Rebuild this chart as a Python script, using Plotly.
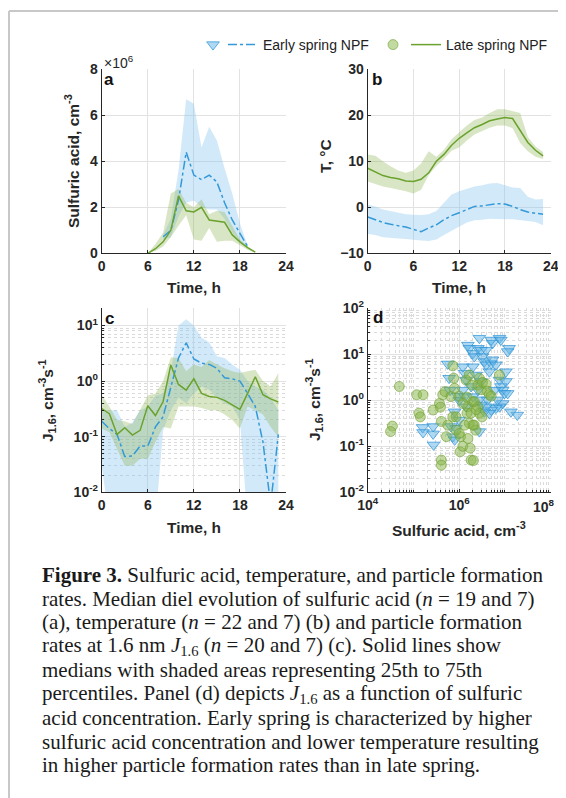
import plotly.graph_objects as go

# ---------------- data ----------------
# Panel a: sulfuric acid (x1e6 cm^-3) vs hour
hours_a_early = [8, 9, 10, 11, 12, 13, 14, 15, 16, 17, 18, 19]
early_a_med = [0.72, 1.0, 2.3, 4.4, 3.4, 3.2, 3.4, 3.1, 2.2, 1.45, 0.87, 0.3]
early_a_q75 = [0.8, 1.5, 3.6, 6.7, 6.5, 4.6, 5.5, 4.9, 3.7, 2.6, 1.3, 0.35]
early_a_q25 = [0.6, 0.7, 1.6, 2.2, 2.3, 2.0, 1.9, 1.9, 1.5, 0.9, 0.5, 0.25]

hours_a_late = [6, 7, 8, 9, 10, 11, 12, 13, 14, 15, 16, 17, 18, 19, 20]
late_a_med = [0.0, 0.2, 0.5, 1.0, 2.5, 1.85, 1.8, 2.0, 1.45, 1.4, 1.35, 0.8, 0.5, 0.25, 0.05]
late_a_q75 = [0.0, 0.4, 0.9, 2.6, 2.8, 2.2, 2.0, 2.35, 1.7, 1.85, 1.8, 1.2, 0.6, 0.3, 0.06]
late_a_q25 = [0.0, 0.1, 0.3, 0.7, 1.2, 1.65, 0.6, 0.55, 1.1, 0.5, 0.55, 0.55, 0.35, 0.15, 0.02]

# Panel b: temperature (deg C) vs hour
hours_b = list(range(24))
late_b_med = [8.5, 7.7, 6.9, 6.5, 6.2, 5.7, 5.6, 6.1, 7.5, 10.0, 11.5, 13.5, 15.0, 16.2, 17.3, 18.0,
              18.8, 19.2, 19.5, 19.3, 16.7, 14.1, 12.4, 11.2]
late_b_q75 = [11.5, 11.2, 10.0, 8.9, 8.0, 7.5, 8.0, 9.5, 12.2, 11.0, 12.5, 14.8, 16.3, 17.8, 19.0, 19.5,
              20.5, 21.3, 21.3, 20.9, 20.5, 15.3, 13.2, 12.0]
late_b_q25 = [5.6, 5.0, 4.5, 4.2, 3.9, 3.5, 3.0, 3.8, 7.0, 9.0, 10.5, 12.3, 13.0, 14.5, 15.8, 16.5,
              17.3, 17.8, 17.8, 17.2, 14.0, 12.2, 11.0, 10.5]
early_b_med = [-2.1, -2.7, -3.3, -3.7, -4.0, -4.3, -4.8, -5.3, -4.5, -3.8, -2.7, -1.8, -1.2, -0.5, 0.2, 0.3,
               0.6, 0.8, 0.7, 0.2, -0.5, -1.0, -1.3, -1.5]
early_b_q75 = [0.6, 0.2, -0.5, -0.8, -1.1, -1.5, -1.6, -1.7, -1.5, -0.8, 1.0, 2.8, 3.5, 4.0, 4.5, 4.8,
               5.2, 5.3, 4.8, 4.3, 4.2, 2.3, 1.7, 1.8]
early_b_q25 = [-5.8, -6.0, -6.5, -6.6, -6.8, -6.9, -7.0, -7.2, -7.3, -7.0, -6.0, -5.0, -4.2, -3.3, -2.8, -2.7,
               -2.5, -2.5, -2.6, -2.6, -2.8, -3.0, -3.2, -3.9]

# Panel c: J1.6 (cm^-3 s^-1) vs hour
hours_c = list(range(24))
late_c_med = [0.32, 0.26, 0.11, 0.145, 0.107, 0.13, 0.36, 0.24, 0.43, 1.95, 0.87, 0.69, 1.1, 0.6, 0.53, 0.51,
              0.45, 0.38, 0.31, 0.6, 1.2, 0.57, 0.48, 0.42]
late_c_q75 = [0.56, 0.35, 0.2, 0.19, 0.17, 0.3, 0.55, 0.6, 1.0, 2.7, 2.6, 1.5, 2.0, 1.8, 2.4, 2.0,
              1.7, 1.5, 1.4, 1.5, 1.6, 1.0, 0.8, 1.4]
late_c_q25 = [0.14, 0.12, 0.06, 0.03, 0.03, 0.04, 0.04, 0.08, 0.15, 0.14, 0.35, 0.35, 0.35, 0.33, 0.3, 0.3,
              0.25, 0.2, 0.14, 0.35, 0.3, 0.25, 0.15, 0.1]
early_c_med = [0.19, 0.14, 0.11, 0.044, 0.045, 0.068, 0.068, 0.15, 0.23, 0.8, 2.6, 4.9, 2.5, 2.1, 2.0, 1.7,
               1.15, 1.1, 1.0, 0.6, 0.35, 0.08, 0.006, 0.11]
early_c_q75 = [0.3, 0.3, 0.3, 0.15, 0.18, 0.3, 0.35, 0.55, 0.6, 1.5, 10.0, 13.0, 10.0, 6.0, 5.0, 2.8,
               2.6, 2.0, 1.6, 1.0, 0.8, 0.7, 0.5, 0.3]
early_c_q25 = [0.03, 0.003, 0.003, 0.003, 0.003, 0.003, 0.003, 0.003, 0.13, 0.3, 0.5, 0.4, 0.6, 0.8, 0.7, 0.5,
               0.4, 0.35, 0.2, 0.003, 0.003, 0.003, 0.003, 0.003]

early_d_log_sa = [5.20, 5.21, 5.43, 5.44, 5.43, 5.75, 5.78, 5.80, 5.82, 5.86, 5.93, 5.97, 6.00, 6.08, 6.12,
                  6.12, 6.15, 6.19, 6.22, 6.30, 6.33, 6.44, 6.41, 6.48, 6.51, 6.55, 6.59, 6.66, 6.70, 6.73,
                  6.80, 6.73, 6.70, 6.88, 6.91, 6.95, 6.99, 7.02, 7.06, 7.09, 7.06, 7.27, 7.13, 6.95, 6.88,
                  6.80, 6.70, 6.66, 6.62, 6.59, 6.48, 6.44, 6.41, 6.30, 6.26, 6.37, 6.48, 6.77, 6.84, 6.44,
                  6.15, 6.00, 5.90, 6.30, 6.08, 6.59, 6.88, 6.91, 5.90, 6.55, 7.02]
early_d_log_j = [-0.59, -0.70, -0.73, -0.97, -0.57, 0.79, 0.48, 0.22, -0.57, -0.79, -0.61, 0.09, 0.00, 0.22, 0.08,
                 0.59, 0.44, 1.20, 1.13, 1.02, 0.95, 1.35, 1.13, 1.09, 0.95, 0.84, 0.77, 0.62, 0.80, 0.88,
                 0.77, 1.24, 1.31, 0.44, 0.30, 0.22, 0.15, 0.41, 0.15, 1.13, 1.06, -0.32, -0.25, -0.07, -0.14,
                 -0.17, -0.21, -0.28, 0.01, -0.14, -0.10, 0.01, 0.22, 0.08, 0.30, 0.55, 0.41, 0.22, 0.01, -0.68,
                 -0.14, -0.43, -0.25, 0.73, 0.73, 1.09, 1.35, 1.31, -0.86, -0.25, 0.62]
late_d_log_sa = [4.69, 4.54, 4.50, 5.07, 5.21, 5.12, 5.15, 5.43, 5.57, 5.61, 5.64, 5.69, 5.59, 5.61, 5.61,
                 5.86, 5.88, 5.72, 5.75, 5.86, 5.93, 6.00, 6.03, 6.02, 6.08, 6.19, 6.15, 6.17, 6.19, 6.17,
                 6.22, 6.12, 6.24, 6.26, 6.31, 6.30, 6.28, 6.33, 6.36, 6.41, 6.44, 6.48, 6.51, 6.59, 6.61,
                 6.66, 6.41, 6.44, 6.26, 6.30, 6.70, 6.88, 6.50, 6.33, 6.37, 6.08, 6.22, 5.82, 5.90, 5.93,
                 6.00]
late_d_log_j = [0.30, -0.56, -0.68, 0.12, 0.12, -0.28, -0.36, -0.21, -0.07, -0.46, 0.12, 0.19, -0.15, -1.30, -1.41,
                0.75, 0.48, -0.79, -0.54, -0.36, -0.36, 0.09, -0.79, -1.12, -1.00, -0.83, 0.44, 0.07, -0.14, -0.28,
                -0.50, -0.54, -1.04, -1.30, -1.31, -0.03, 0.33, -0.54, -0.65, 0.33, 0.48, 0.23, 0.39, 0.35, 0.20,
                0.12, -0.14, -0.28, -0.28, -0.54, 0.09, 0.55, -0.36, -0.03, -0.20, -0.07, 0.55, 0.08, 0.26, -0.65,
                -0.72]

time_ticks = [0, 6, 12, 18, 24]
sa_ticks = [0, 2, 4, 6, 8]
temp_ticks = [-10, 0, 10, 20, 30]
j_ticks = [0.01, 0.1, 1, 10]
j_ticktext = ["10<sup>-2</sup>", "10<sup>-1</sup>", "10<sup>0</sup>", "10<sup>1</sup>"]
jd_ticks = [0.01, 0.1, 1, 10, 100]
jd_ticktext = ["10<sup>-2</sup>", "10<sup>-1</sup>", "10<sup>0</sup>", "10<sup>1</sup>", "10<sup>2</sup>"]
sad_ticks = [1e4, 1e6, 1e8]
# the last label is drawn separately, pulled left to stay inside the page as in the reference
sad_ticktext = ["10<sup>4</sup>", "10<sup>6</sup>", ""]
sad_last_label = "10<sup>8</sup>"

# ---------------- styles ----------------
OFF = 8                      # page body margin
W, H = 566 - OFF, 798 - OFF  # figure size so that the page fits the window
BLUE = "#3399d9"
BLUE_FILL = "rgba(125,192,238,0.35)"
GREEN = "#6aa22e"
GREEN_FILL = "rgba(140,180,80,0.33)"
AX = "#262626"
GRID = "#e2e2e2"
FONT = "Liberation Sans"


def px(x):
    """screen pixel x -> paper fraction"""
    return (x - OFF) / W


def py(y):
    """screen pixel y -> paper fraction"""
    return 1 - (y - OFF) / H


fig = go.Figure()


def band(x, lo, hi, color, xa, ya):
    fig.add_trace(go.Scatter(x=list(x) + list(x)[::-1], y=list(hi) + list(lo)[::-1], fill="toself",
                             fillcolor=color, line=dict(width=0), mode="lines", hoverinfo="skip",
                             showlegend=False, xaxis=xa, yaxis=ya))


def med(x, y, color, dash, xa, ya, name=None, legend=None):
    fig.add_trace(go.Scatter(x=x, y=y, mode="lines", line=dict(color=color, width=1.5, dash=dash),
                             name=name, showlegend=legend is not None, legend=legend or "legend",
                             xaxis=xa, yaxis=ya))


# panel a
band(hours_a_early, early_a_q25, early_a_q75, BLUE_FILL, "x", "y")
band(hours_a_late, late_a_q25, late_a_q75, GREEN_FILL, "x", "y")
med(hours_a_early, early_a_med, BLUE, "dashdot", "x", "y", "Early spring NPF", "legend2")
med(hours_a_late, late_a_med, GREEN, "solid", "x", "y", "Late spring NPF", "legend4")
# panel b
band(hours_b, early_b_q25, early_b_q75, BLUE_FILL, "x2", "y2")
band(hours_b, late_b_q25, late_b_q75, GREEN_FILL, "x2", "y2")
med(hours_b, early_b_med, BLUE, "dashdot", "x2", "y2")
med(hours_b, late_b_med, GREEN, "solid", "x2", "y2")
# panel c
band(hours_c, early_c_q25, early_c_q75, BLUE_FILL, "x3", "y3")
band(hours_c, late_c_q25, late_c_q75, GREEN_FILL, "x3", "y3")
med(hours_c, early_c_med, BLUE, "dashdot", "x3", "y3")
med(hours_c, late_c_med, GREEN, "solid", "x3", "y3")
# panel d
fig.add_trace(go.Scatter(x=[10 ** v for v in early_d_log_sa], y=[10 ** v for v in early_d_log_j],
                         mode="markers", name="", showlegend=True, legend="legend",
                         marker=dict(symbol="triangle-down", size=11, color="rgba(95,180,230,0.5)",
                                     line=dict(color="rgba(50,150,215,0.75)", width=1)),
                         xaxis="x4", yaxis="y4"))
fig.add_trace(go.Scatter(x=[10 ** v for v in late_d_log_sa], y=[10 ** v for v in late_d_log_j],
                         mode="markers", name="", showlegend=True, legend="legend3",
                         marker=dict(symbol="circle", size=10, color="rgba(135,180,70,0.5)",
                                     line=dict(color="rgba(110,160,50,0.6)", width=1)),
                         xaxis="x4", yaxis="y4"))

tickfont = dict(family=FONT, size=14, color=AX, weight="bold")
common = dict(showline=True, linecolor=AX, linewidth=1, ticks="inside", ticklen=3, tickcolor=AX,
              showgrid=True, gridcolor=GRID, gridwidth=1, zeroline=False, tickfont=tickfont,
              mirror=False, fixedrange=True)
minor = dict(showgrid=True, gridcolor="#dadada", griddash="dot", gridwidth=1, dtick="D1",
             ticks="inside", ticklen=2, tickcolor=AX)

xa_dom = [px(101.7), px(286)]
xb_dom = [px(367.7), px(550.7)]
top_dom = [py(253.3), py(69.3)]
bot_dom = [py(492.3), py(308.3)]

leg_common = dict(orientation="h", xanchor="left", yanchor="middle", bgcolor="rgba(0,0,0,0)",
                  font=dict(family=FONT, size=14, color="#222222"), borderwidth=0,
                  itemclick=False, itemdoubleclick=False)

fig.update_layout(
    width=W, height=H, margin=dict(l=0, r=0, t=0, b=0, autoexpand=False),
    paper_bgcolor="white", plot_bgcolor="white",
    font=dict(family=FONT, color=AX),
    xaxis=dict(domain=xa_dom, range=[0, 24], tickvals=time_ticks, anchor="y", **common),
    yaxis=dict(domain=top_dom, range=[0, 8], tickvals=sa_ticks, anchor="x", **common),
    xaxis2=dict(domain=xb_dom, range=[0, 24], tickvals=time_ticks, anchor="y2", **common),
    yaxis2=dict(domain=top_dom, range=[-10, 30], tickvals=temp_ticks, anchor="x2", **common),
    xaxis3=dict(domain=xa_dom, range=[0, 24], tickvals=time_ticks, anchor="y3", **common),
    yaxis3=dict(domain=bot_dom, type="log", range=[-2, 1.31], tickvals=j_ticks, ticktext=j_ticktext,
                anchor="x3", minor=minor, **common),
    xaxis4=dict(domain=xb_dom, type="log", range=[4, 8], tickvals=sad_ticks, ticktext=sad_ticktext,
                anchor="y4", minor=minor, **common),
    yaxis4=dict(domain=bot_dom, type="log", range=[-2, 2], tickvals=jd_ticks, ticktext=jd_ticktext,
                anchor="x4", minor=minor, **common),
    legend=dict(x=px(193), y=py(45), **leg_common),
    legend2=dict(x=px(223), y=py(45), **leg_common),
    legend3=dict(x=px(373), y=py(45), **leg_common),
    legend4=dict(x=px(406), y=py(45), **leg_common),
    showlegend=True,
)

# frame lines
fig.add_shape(type="line", xref="paper", yref="paper", x0=px(9), x1=px(9), y0=py(11), y1=0,
              line=dict(color="#c8c8c8", width=2))
fig.add_shape(type="line", xref="paper", yref="paper", x0=px(9), x1=1, y0=py(11), y1=py(11),
              line=dict(color="#c8c8c8", width=2))

title_font = dict(family=FONT, size=15.5, color=AX, weight="bold")


def ann(text, x, y, font, angle=0, xanchor="center", yanchor="middle"):
    fig.add_annotation(text=text, x=px(x), y=py(y), xref="paper", yref="paper", showarrow=False,
                       font=font, textangle=angle, xanchor=xanchor, yanchor=yanchor)


# last x tick label of panel d
ann(sad_last_label, 544, 506, tickfont)

# axis titles
ann("Sulfuric acid, cm<sup>-3</sup>", 72, 161, title_font, -90)
ann("Time, h", 194, 287, title_font)
ann("T, °C", 325, 156, title_font, -90)
ann("Time, h", 459, 287, title_font)
ann("J<sub>1.6</sub>, cm<sup>-3</sup>s<sup>-1</sup>", 47, 400, title_font, -90)
ann("Time, h", 194, 527, title_font)
ann("J<sub>1.6</sub>, cm<sup>-3</sup>s<sup>-1</sup>", 314, 400, title_font, -90)
ann("Sulfuric acid, cm<sup>-3</sup>", 459, 529, title_font)

# panel letters
letter_font = dict(family=FONT, size=17, color="#111111", weight="bold")
ann("a", 109, 79, letter_font)
ann("b", 377, 79, letter_font)
ann("c", 109, 318, letter_font)
ann("d", 378, 317, letter_font)
ann("×10<sup>6</sup>", 102, 62, dict(family=FONT, size=14, color=AX), xanchor="left")

# caption
cap_font = dict(family="Liberation Serif", size=21, color="#1a1a1a")
caption_lines = [
    "<b>Figure 3.</b> Sulfuric acid, temperature, and particle formation",
    "rates. Median diel evolution of sulfuric acid (<i>n</i> = 19 and 7)",
    "(a), temperature (<i>n</i> = 22 and 7) (b) and particle formation",
    "rates at 1.6 nm <i>J</i><sub>1.6</sub> (<i>n</i> = 20 and 7) (c). Solid lines show",
    "medians with shaded areas representing 25th to 75th",
    "percentiles. Panel (d) depicts <i>J</i><sub>1.6</sub> as a function of sulfuric",
    "acid concentration. Early spring is characterized by higher",
    "sulfuric acid concentration and lower temperature resulting",
    "in higher particle formation rates than in late spring.",
]
cap_y = [575, 598.5, 622, 646, 669.5, 693.5, 717.5, 741.5, 765]
for line, yy in zip(caption_lines, cap_y):
    ann(line, 40, yy, cap_font, xanchor="left")

fig.write_html("out.html")
